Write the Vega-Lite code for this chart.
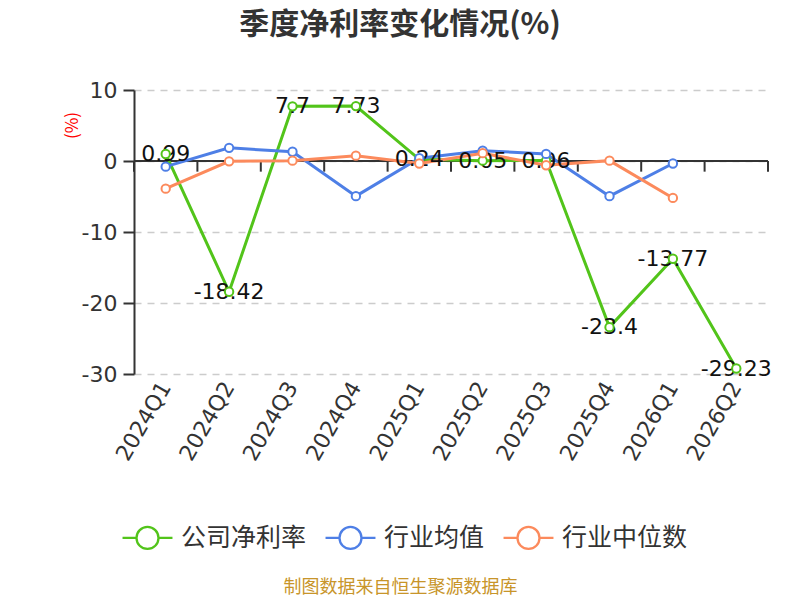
{
  "$schema": "https://vega.github.io/schema/vega-lite/v6.json",
  "width": 634,
  "height": 284,
  "autosize": "none",
  "padding": {"left": 134, "top": 90, "right": 32, "bottom": 226},
  "background": "white",
  "config": {
    "font": "Noto Sans CJK SC",
    "view": {"stroke": null}
  },
  "title": {
    "text": "季度净利率变化情况(%)",
    "fontSize": 30,
    "fontWeight": "bold",
    "color": "#333333",
    "anchor": "middle",
    "frame": "group",
    "dx": -51,
    "offset": 39
  },
  "data": {
    "values": [
      {"quarter": "2024Q1", "series": "公司净利率", "value": 0.99},
      {"quarter": "2024Q2", "series": "公司净利率", "value": -18.42},
      {"quarter": "2024Q3", "series": "公司净利率", "value": 7.7},
      {"quarter": "2024Q4", "series": "公司净利率", "value": 7.73},
      {"quarter": "2025Q1", "series": "公司净利率", "value": 0.24},
      {"quarter": "2025Q2", "series": "公司净利率", "value": 0.05},
      {"quarter": "2025Q3", "series": "公司净利率", "value": 0.06},
      {"quarter": "2025Q4", "series": "公司净利率", "value": -23.4},
      {"quarter": "2026Q1", "series": "公司净利率", "value": -13.77},
      {"quarter": "2026Q2", "series": "公司净利率", "value": -29.23},
      {"quarter": "2024Q1", "series": "行业均值", "value": -0.8},
      {"quarter": "2024Q2", "series": "行业均值", "value": 1.85},
      {"quarter": "2024Q3", "series": "行业均值", "value": 1.3},
      {"quarter": "2024Q4", "series": "行业均值", "value": -4.95},
      {"quarter": "2025Q1", "series": "行业均值", "value": 0.4},
      {"quarter": "2025Q2", "series": "行业均值", "value": 1.45},
      {"quarter": "2025Q3", "series": "行业均值", "value": 1.0},
      {"quarter": "2025Q4", "series": "行业均值", "value": -4.95},
      {"quarter": "2026Q1", "series": "行业均值", "value": -0.35},
      {"quarter": "2024Q1", "series": "行业中位数", "value": -3.9},
      {"quarter": "2024Q2", "series": "行业中位数", "value": -0.05},
      {"quarter": "2024Q3", "series": "行业中位数", "value": 0.05},
      {"quarter": "2024Q4", "series": "行业中位数", "value": 0.75},
      {"quarter": "2025Q1", "series": "行业中位数", "value": -0.35},
      {"quarter": "2025Q2", "series": "行业中位数", "value": 1.1},
      {"quarter": "2025Q3", "series": "行业中位数", "value": -0.6},
      {"quarter": "2025Q4", "series": "行业中位数", "value": 0.05},
      {"quarter": "2026Q1", "series": "行业中位数", "value": -5.2}
    ]
  },
  "encoding": {
    "x": {
      "field": "quarter",
      "type": "ordinal",
      "sort": null,
      "scale": {"paddingInner": 0, "paddingOuter": 0},
      "axis": {
        "title": "制图数据来自恒生聚源数据库",
        "titleColor": "#c8952a",
        "titleFontSize": 18,
        "titleFontWeight": "normal",
        "titleX": 266,
        "titleY": 213,
        "titleAlign": "center",
        "titleBaseline": "middle",
        "labelAngle": -60,
        "labelAlign": "right",
        "labelBaseline": "middle",
        "labelFont": "DejaVu Sans",
        "labelFontSize": 22,
        "labelColor": "#333333",
        "labelPadding": 9,
        "domain": false,
        "ticks": false,
        "grid": false
      }
    },
    "y": {
      "field": "value",
      "type": "quantitative",
      "scale": {"domain": [-30, 10], "nice": false},
      "axis": {
        "values": [10, 0, -10, -20, -30],
        "labelExpr": "datum.value + ''",
        "title": "(%)",
        "titleColor": "red",
        "titleFontSize": 17,
        "titleFontWeight": "normal",
        "titleX": -62,
        "titleY": 35,
        "titleAlign": "center",
        "titleBaseline": "middle",
        "labelFont": "DejaVu Sans",
        "labelFontSize": 22,
        "labelColor": "#333333",
        "labelPadding": 6,
        "domainColor": "#333333",
        "domainWidth": 2,
        "tickColor": "#333333",
        "tickSize": 11,
        "tickWidth": 2,
        "gridColor": "#cccccc",
        "gridWidth": 1.5,
        "gridDash": [7, 6]
      }
    },
    "color": {
      "field": "series",
      "type": "nominal",
      "sort": ["公司净利率", "行业均值", "行业中位数"],
      "scale": {
        "domain": ["公司净利率", "行业均值", "行业中位数"],
        "range": ["#52c41a", "#4e7fe6", "#fc8a5c"]
      },
      "legend": {
        "title": null,
        "orient": "none",
        "direction": "horizontal",
        "legendX": 1,
        "legendY": 435,
        "symbolType": "M-2.27,0L-1,0M1,0L2.27,0M1,0A1,1,0,1,1,-1,0A1,1,0,1,1,1,0",
        "symbolSize": 484,
        "symbolStrokeWidth": 2.3,
        "symbolFillColor": "white",
        "labelFontSize": 25,
        "labelColor": "#333333",
        "labelOffset": 21,
        "columnPadding": 13,
        "labelLimit": 300
      }
    }
  },
  "layer": [
    {
      "mark": {"type": "rule", "color": "#333333", "strokeWidth": 2},
      "encoding": {"x": null, "y": {"datum": 0}, "color": null}
    },
    {
      "transform": [{"filter": "datum.series == '公司净利率'"}],
      "mark": {"type": "rule", "color": "#333333", "strokeWidth": 2},
      "encoding": {
        "x": {"field": "quarter", "type": "ordinal", "sort": null, "bandPosition": 0},
        "y": {"datum": 0},
        "y2": {"datum": -1.5},
        "color": null
      }
    },
    {
      "transform": [{"filter": "datum.quarter == '2026Q2'"}],
      "mark": {"type": "rule", "color": "#333333", "strokeWidth": 2},
      "encoding": {
        "x": {"field": "quarter", "type": "ordinal", "sort": null, "bandPosition": 1},
        "y": {"datum": 0},
        "y2": {"datum": -1.5},
        "color": null
      }
    },
    {
      "mark": {"type": "line", "strokeWidth": 3}
    },
    {
      "transform": [{"filter": "datum.series == '公司净利率'"}],
      "mark": {"type": "text", "font": "DejaVu Sans", "fontSize": 22, "color": "#111111", "align": "center", "baseline": "middle"},
      "encoding": {"text": {"field": "value"}, "color": null}
    },
    {
      "mark": {"type": "point", "shape": "circle", "filled": false, "fill": "white", "size": 70, "strokeWidth": 2, "opacity": 1}
    }
  ]
}
